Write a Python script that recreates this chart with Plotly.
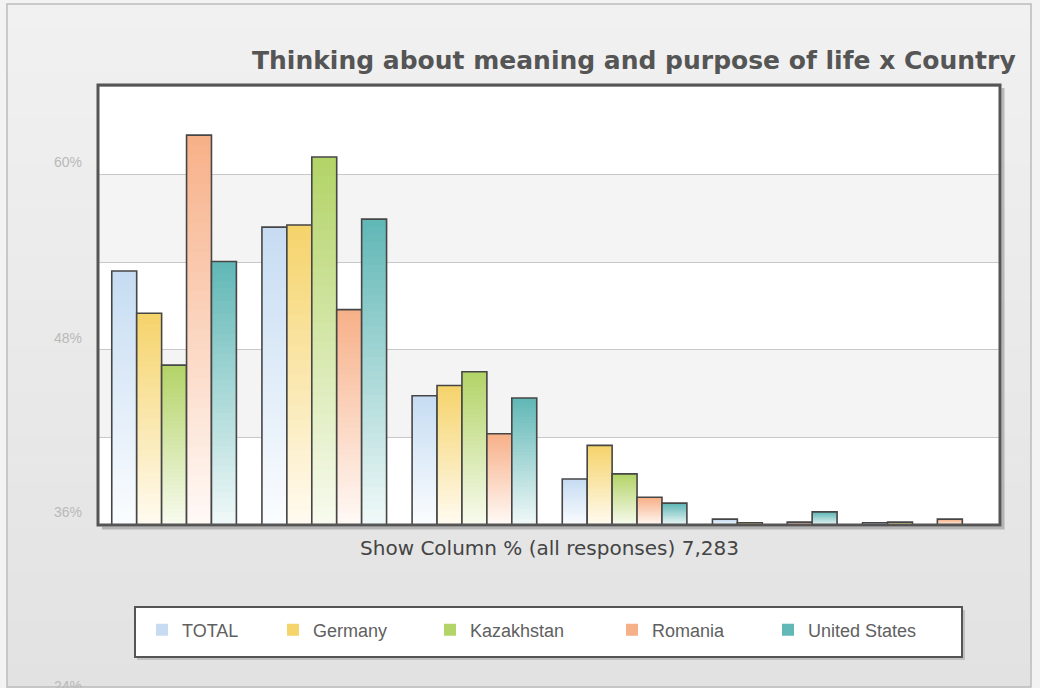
import plotly.graph_objects as go

# ---------------- data ----------------
categories = ["Often", "Sometimes", "Rarely", "Never", "Don't know", "No answer"]
series_names = ["TOTAL", "Germany", "Kazakhstan", "Romania", "United States"]
total = [34.8, 40.8, 17.7, 6.3, 0.8, 0.3]
germany = [29.0, 41.1, 19.1, 10.9, 0.3, 0.4]
kazakhstan = [21.9, 50.4, 21.0, 7.0, 0.0, 0.0]
romania = [53.4, 29.5, 12.5, 3.8, 0.4, 0.8]
united_states = [36.1, 41.9, 17.4, 3.0, 1.8, 0.0]
y_tick_labels = ["60%", "48%", "36%", "24%"]
chart_title = "Thinking about meaning and purpose of life x Country"
x_axis_title = "Show Column % (all responses) 7,283"

series_values = [total, germany, kazakhstan, romania, united_states]

# ---------------- style ----------------
W, H = 1040, 688
L, R, T, B = 99, 40, 85, 163
PW, PH = W - L - R, H - T - B

# (top colour, bottom colour)
series_colors = [
    ("#c6dcf2", "#fbfdff"),
    ("#f5d36a", "#fffbf1"),
    ("#b2d366", "#f8fbef"),
    ("#f7b088", "#fffaf7"),
    ("#60b7b6", "#f1f9f9"),
]
legend_text_x = [182, 313, 470, 652, 808]
y_label_px = [162, 338, 512, 686]


def px2x(px):
    return (px - L) / PW


def px2y(py):
    return (H - B - py) / PH


def hex2rgb(h):
    h = h.lstrip("#")
    return tuple(int(h[i:i + 2], 16) for i in (0, 2, 4))


def mix(c0, c1, t):
    a, b = hex2rgb(c0), hex2rgb(c1)
    return "rgb(%d,%d,%d)" % tuple(round(a[i] + (b[i] - a[i]) * t) for i in range(3))


fig = go.Figure()
N = 40
legend_ids = ["legend", "legend2", "legend3", "legend4", "legend5"]

for i, (name, vals) in enumerate(zip(series_names, series_values)):
    top, bottom = series_colors[i]
    for k in range(N):
        frac = (k + 0.5) / N
        # each gradient slice overlaps the next one slightly so no seams show
        ext = 1.0 if k == N - 1 else 1.6
        fig.add_trace(go.Bar(
            x=categories,
            y=[v * ext / N for v in vals],
            base=[v * k / N for v in vals],
            marker=dict(color=mix(bottom, top, frac), line=dict(width=0)),
            offsetgroup=name, legendgroup=name, name=name,
            showlegend=(k == N - 1), legend=legend_ids[i],
            hoverinfo="skip",
        ))
    fig.add_trace(go.Bar(
        x=categories, y=vals, base=[0] * len(vals),
        marker=dict(color="rgba(0,0,0,0)", line=dict(color="#464646", width=1.6)),
        offsetgroup=name, legendgroup=name, name=name, showlegend=False,
        hovertemplate=name + ": %{y:.1f}%<extra></extra>",
    ))

shapes = []
# outer background gradient
bands = 30
y_top, y_bot = 4, 687
for b in range(bands):
    y0 = y_top + (y_bot - y_top) * b / bands
    y1 = y_top + (y_bot - y_top) * (b + 1) / bands
    shapes.append(dict(type="rect", xref="paper", yref="paper",
                       x0=px2x(7), x1=px2x(1031), y0=px2y(y1 + 0.5), y1=px2y(y0),
                       fillcolor=mix("#f1f1f1", "#e2e2e2", b / (bands - 1)),
                       line=dict(width=0), layer="below"))
# outer frame
shapes.append(dict(type="rect", xref="paper", yref="paper",
                   x0=px2x(7), x1=px2x(1031), y0=px2y(687), y1=px2y(4),
                   fillcolor="rgba(0,0,0,0)", line=dict(color="#bcbcbc", width=1.5),
                   layer="below"))
# plot area white + alternate bands
shapes.append(dict(type="rect", xref="paper", yref="paper", x0=0, x1=1, y0=0, y1=1,
                   fillcolor="#ffffff", line=dict(width=0), layer="below"))
for lo, hi in [(12, 24), (36, 48)]:
    shapes.append(dict(type="rect", xref="paper", yref="y", x0=0, x1=1, y0=lo, y1=hi,
                       fillcolor="#f4f4f4", line=dict(width=0), layer="below"))
# plot frame shadow (right + bottom only) + frame
shadow = dict(color="rgba(120,120,120,0.45)", width=3)
shapes.append(dict(type="line", xref="paper", yref="paper",
                   x0=px2x(L + PW + 3), x1=px2x(L + PW + 3), y0=px2y(H - B + 4.5), y1=px2y(T + 3),
                   line=shadow, layer="above"))
shapes.append(dict(type="line", xref="paper", yref="paper",
                   x0=px2x(L + 3), x1=px2x(L + PW + 1.5), y0=px2y(H - B + 3), y1=px2y(H - B + 3),
                   line=shadow, layer="above"))
shapes.append(dict(type="rect", xref="paper", yref="paper", x0=px2x(98), x1=1, y0=0, y1=1,
                   fillcolor="rgba(0,0,0,0)", line=dict(color="#555555", width=3),
                   layer="above"))
# legend box shadow + box
shapes.append(dict(type="rect", xref="paper", yref="paper",
                   x0=px2x(137), x1=px2x(965), y0=px2y(660), y1=px2y(610),
                   fillcolor="rgba(150,150,150,0.45)", line=dict(width=0), layer="above"))
shapes.append(dict(type="rect", xref="paper", yref="paper",
                   x0=px2x(135), x1=px2x(962), y0=px2y(657), y1=px2y(607),
                   fillcolor="#ffffff", line=dict(color="#555555", width=2), layer="above"))

annotations = []
for lab, py in zip(y_tick_labels, y_label_px):
    annotations.append(dict(text=lab, xref="paper", yref="paper", x=px2x(84), y=px2y(py),
                            xanchor="right", yanchor="middle", showarrow=False,
                            font=dict(family="Liberation Sans, Arial", size=14, color="#b9b9b9")))

legend_common = dict(orientation="h", bgcolor="rgba(0,0,0,0)", borderwidth=0,
                     font=dict(family="Liberation Sans, Arial", size=18, color="#606060"),
                     yanchor="middle", y=px2y(630), xanchor="left")
layout_legends = {}
for i, lid in enumerate(legend_ids):
    layout_legends[lid] = dict(legend_common, x=px2x(legend_text_x[i] - 40))

fig.update_layout(
    width=W, height=H,
    margin=dict(l=L, r=R, t=T, b=B, autoexpand=False),
    paper_bgcolor="#f3f3f3", plot_bgcolor="rgba(0,0,0,0)",
    barmode="group", bargap=0.17, bargroupgap=0,
    title=dict(text=chart_title, x=252 / W, xanchor="left", y=1 - 60 / H, yanchor="middle",
               font=dict(family="DejaVu Sans", size=25, color="#555555", weight="bold")),
    xaxis=dict(showticklabels=False, ticks="", showgrid=False, zeroline=False, showline=False,
               title=dict(text=x_axis_title, standoff=15,
                          font=dict(family="DejaVu Sans", size=20, color="#444444"))),
    yaxis=dict(range=[0, 60.27], tick0=0, dtick=12, showticklabels=False, ticks="",
               showgrid=True, gridcolor="#c8c8c8", gridwidth=1, zeroline=False, showline=False),
    shapes=shapes, annotations=annotations,
    showlegend=True,
    **layout_legends,
)

fig.write_html(
    "out.html",
    config={"displayModeBar": False},
    post_script="document.body.style.margin='0';document.body.style.overflow='hidden';",
)
